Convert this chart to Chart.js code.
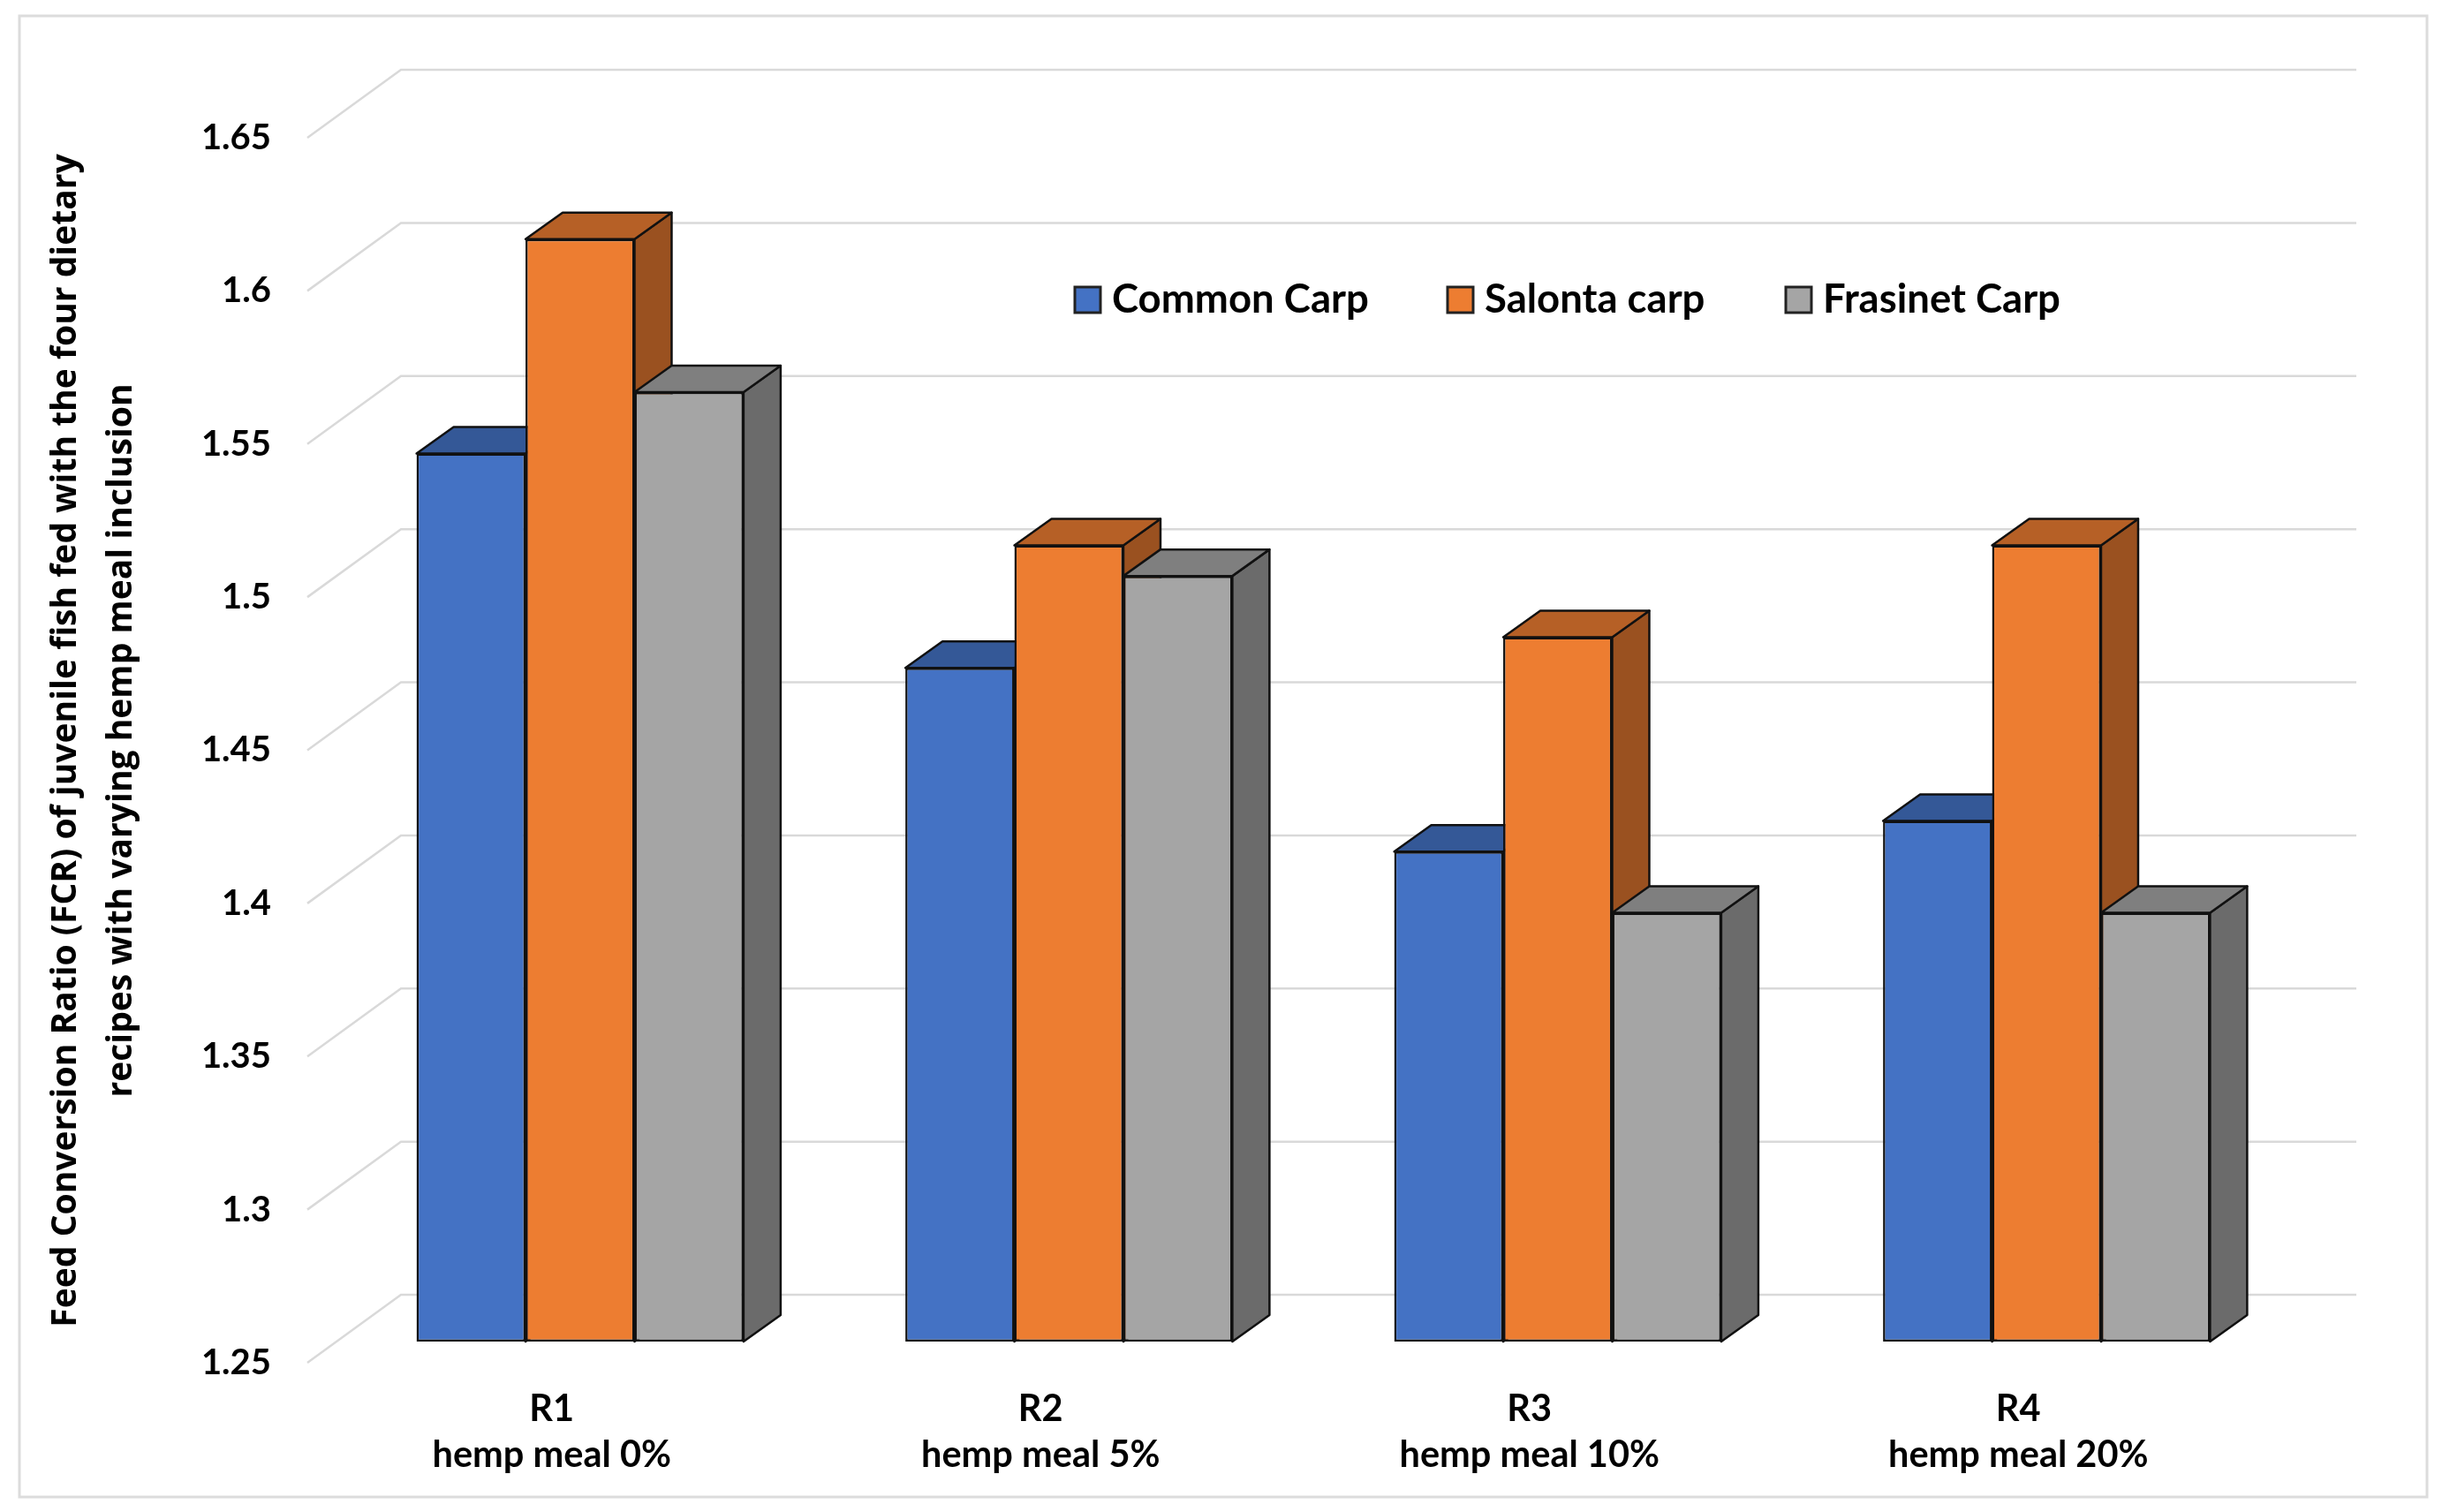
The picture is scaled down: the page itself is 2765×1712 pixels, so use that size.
<!DOCTYPE html>
<html>
<head>
<meta charset="utf-8">
<title>Feed Conversion Ratio</title>
<style>
  html, body { margin: 0; padding: 0; background: #fff; }
  canvas { display: block; }
</style>
<script src="https://cdn.jsdelivr.net/npm/chart.js@4"></script>
</head>
<body>
<canvas id="fcr-chart" width="2765" height="1712"></canvas>
<script>
const categories = [
  ["R1", "hemp meal 0%"],
  ["R2", "hemp meal 5%"],
  ["R3", "hemp meal 10%"],
  ["R4", "hemp meal 20%"]
];
const commonCarp = [1.54, 1.47, 1.41, 1.42];
const salontaCarp = [1.61, 1.51, 1.48, 1.51];
const frasinetCarp = [1.56, 1.50, 1.39, 1.39];
const yMin = 1.25;
const yMax = 1.65;
const yStep = 0.05;
const yTitle = [
  "Feed Conversion Ratio (FCR) of juvenile fish fed with the four dietary",
  "recipes with varying hemp meal inclusion"
];

const LABEL_FONT = "Lato";
const INK = "#111111";

// the bars stand part way into the floor, the walls go further back
const barShift = { x: 32, y: -24 };
const barDepth = { x: 42, y: -30 };
const wallDepth = { x: 106, y: -77 };

const legendBoxes = [1217, 1639, 2022];
const legendY = 339;

function shade(hex, f) {
  const n = parseInt(hex.slice(1), 16);
  const r = Math.round((n >> 16 & 255) * f);
  const g = Math.round((n >> 8 & 255) * f);
  const b = Math.round((n & 255) * f);
  return "rgb(" + r + "," + g + "," + b + ")";
}

function face(ctx, pts, fill) {
  ctx.beginPath();
  ctx.moveTo(pts[0][0], pts[0][1]);
  for (let i = 1; i < pts.length; i++) ctx.lineTo(pts[i][0], pts[i][1]);
  ctx.closePath();
  ctx.fillStyle = fill;
  ctx.fill();
  ctx.strokeStyle = INK;
  ctx.lineWidth = 2.5;
  ctx.lineJoin = "round";
  ctx.stroke();
}

function drawFaces(ctx, meta, color) {
  meta.data.forEach(function (bar) {
    const p = bar.getProps(["x", "y", "width", "base"], true);
    const l = p.x - p.width / 2;
    const r = p.x + p.width / 2;
    face(ctx, [
      [r, p.y], [r + barDepth.x, p.y + barDepth.y],
      [r + barDepth.x, p.base + barDepth.y], [r, p.base]
    ], shade(color, 0.65));
    face(ctx, [
      [l, p.y], [l + barDepth.x, p.y + barDepth.y],
      [r + barDepth.x, p.y + barDepth.y], [r, p.y]
    ], shade(color, 0.77));
  });
}

const box3d = {
  id: "box3d",
  beforeDraw(chart) {
    const ctx = chart.ctx;
    ctx.save();
    ctx.strokeStyle = "#dcdcdc";
    ctx.lineWidth = 3;
    ctx.strokeRect(22, 18, 2726, 1677);
    ctx.restore();
  },
  beforeDatasetsDraw(chart) {
    const ctx = chart.ctx;
    const area = chart.chartArea;
    const y = chart.scales.y;

    // walls, from the axis ticks
    ctx.save();
    ctx.strokeStyle = "#d9d9d9";
    ctx.lineWidth = 2.5;
    y.ticks.forEach(function (t) {
      const py = y.getPixelForValue(t.value);
      ctx.beginPath();
      ctx.moveTo(area.left, py);
      ctx.lineTo(area.left + wallDepth.x, py + wallDepth.y);
      ctx.lineTo(area.right + wallDepth.x, py + wallDepth.y);
      ctx.stroke();
    });
    ctx.restore();

    // left to right, so each box covers the side of the one before it
    ctx.save();
    ctx.translate(barShift.x, barShift.y);
    chart.getSortedVisibleDatasetMetas().forEach(function (meta) {
      drawFaces(ctx, meta, chart.data.datasets[meta.index].backgroundColor);
      meta.controller.draw();
    });
    ctx.restore();

    // legend sits inside the plot
    ctx.save();
    ctx.font = "bold 45.5px " + LABEL_FONT;
    ctx.textAlign = "left";
    ctx.textBaseline = "middle";
    chart.data.datasets.forEach(function (ds, i) {
      ctx.fillStyle = ds.backgroundColor;
      ctx.strokeStyle = "#222";
      ctx.lineWidth = 3;
      ctx.fillRect(legendBoxes[i], legendY - 14, 29, 29);
      ctx.strokeRect(legendBoxes[i], legendY - 14, 29, 29);
      ctx.fillStyle = "#000";
      ctx.fillText(ds.label, legendBoxes[i] + 42, legendY);
    });
    ctx.restore();
    return false;
  }
};

const common = { borderColor: INK, borderWidth: 2.5, borderSkipped: false, base: yMin,
  categoryPercentage: 0.669, barPercentage: 1 };

const chart = new Chart(document.getElementById("fcr-chart"), {
  type: "bar",
  data: {
    labels: categories,
    datasets: [
      Object.assign({ label: "Common Carp", data: commonCarp, backgroundColor: "#4472C4" }, common),
      Object.assign({ label: "Salonta carp", data: salontaCarp, backgroundColor: "#ED7D31" }, common),
      Object.assign({ label: "Frasinet Carp", data: frasinetCarp, backgroundColor: "#A5A5A5" }, common)
    ]
  },
  options: {
    responsive: false,
    devicePixelRatio: 1,
    animation: false,
    layout: { padding: { top: 156, right: 203, left: 0, bottom: 0 } },
    plugins: { legend: { display: false }, title: { display: false }, tooltip: { enabled: false } },
    scales: {
      x: {
        grid: { display: false, drawTicks: false },
        border: { display: false },
        afterFit(s) { s.height = 169; },
        ticks: {
          autoSkip: false, maxRotation: 0, minRotation: 0, padding: 27, color: "#000",
          font: { family: LABEL_FONT, weight: "bold", size: 41.5, lineHeight: 1.24 }
        }
      },
      y: {
        min: yMin, max: yMax,
        grid: { display: false, drawTicks: false },
        border: { display: false },
        afterFit(s) {
          s.width = 348;
          // title is centred a little above the middle of the axis
          if (!s.titleMoved) {
            const drawTitle = s.drawTitle;
            s.drawTitle = function () {
              s.ctx.save();
              s.ctx.translate(0, -11);
              drawTitle.call(s);
              s.ctx.restore();
            };
            s.titleMoved = true;
          }
        },
        afterBuildTicks(s) {
          s.ticks = [];
          for (let k = 0; k <= Math.round((yMax - yMin) / yStep); k++) {
            s.ticks.push({ value: +(yMin + k * yStep).toFixed(2) });
          }
        },
        title: {
          display: true, text: yTitle, color: "#000", padding: { top: 44, bottom: 0 },
          font: { family: "Open Sans", weight: "bold", size: 39, lineHeight: 1.6 }
        },
        ticks: {
          padding: 41, color: "#000",
          font: { family: LABEL_FONT, weight: "bold", size: 40 },
          callback(v) { return String(+v.toFixed(2)); }
        }
      }
    }
  },
  plugins: [box3d]
});
</script>
</body>
</html>
